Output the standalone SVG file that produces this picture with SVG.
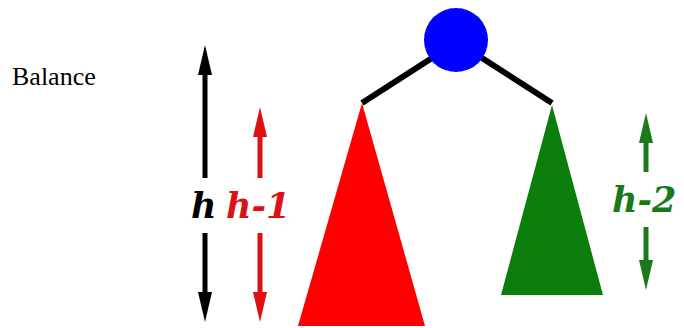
<svg xmlns="http://www.w3.org/2000/svg" width="684" height="328" viewBox="0 0 684 328">
<defs>
<polygon id="headUp" points="0,0 -7,30 7,30"/>
<polygon id="headDown" points="0,0 -7,-30 7,-30"/>
</defs>
<rect width="684" height="328" fill="#fff"/>
<text x="12" y="85" font-family="Liberation Serif" font-size="26" fill="#000">Balance</text>
<g id="connectors" stroke="#000" stroke-width="6" fill="none">
<line x1="432" y1="58" x2="362" y2="103"/>
<line x1="482" y1="58" x2="552" y2="103"/>
</g>
<g id="root"><circle cx="456" cy="40" r="32" fill="#0000ff"/></g>
<g id="left-subtree"><polygon points="362,103 298,326 425,326" fill="#ff0000"/></g>
<g id="right-subtree"><polygon points="552,105 501,295 603,295" fill="#0a7d0a"/></g>
<g id="h-arrow" fill="#000">
<rect x="202.5" y="60" width="5" height="118"/>
<rect x="202.5" y="233" width="5" height="75"/>
<use href="#headUp" x="205" y="45"/>
<use href="#headDown" x="205" y="322"/>
<text x="191" y="218" font-family="DejaVu Serif" font-weight="bold" font-style="italic" font-size="35">h</text>
</g>
<g id="h1-arrow" fill="#dd1111">
<rect x="257.5" y="120" width="5" height="58"/>
<rect x="257.5" y="233" width="5" height="75"/>
<use href="#headUp" x="260" y="107"/>
<use href="#headDown" x="260" y="322"/>
<text x="226" y="218" font-family="DejaVu Serif" font-weight="bold" font-style="italic" font-size="35">h-1</text>
</g>
<g id="h2-arrow" fill="#1a7a1a">
<rect x="643.5" y="125" width="5" height="47"/>
<rect x="643.5" y="227" width="5" height="50"/>
<use href="#headUp" x="646" y="113"/>
<use href="#headDown" x="646" y="290"/>
<text x="612" y="212" font-family="DejaVu Serif" font-weight="bold" font-style="italic" font-size="35">h-2</text>
</g>
</svg>
